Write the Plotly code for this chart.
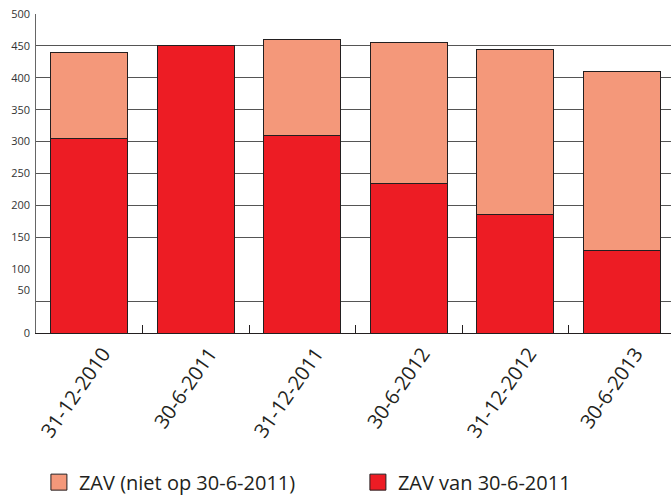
import plotly.graph_objects as go

categories = ["31-12-2010", "30-6-2011", "31-12-2011", "30-6-2012", "31-12-2012", "30-6-2013"]
zav_van = [305, 450, 310, 235, 185, 130]          # ZAV van 30-6-2011 (red, bottom)
zav_niet = [135, 0, 150, 220, 260, 280]           # ZAV (niet op 30-6-2011) (salmon, top)
grid_vals = [50, 150, 200, 250, 300, 350, 400, 450, 500]
ytick_vals = [0, 67, 100, 150, 200, 250, 300, 350, 400, 450, 500]
ytick_text = ["0", "50", "100", "150", "200", "250", "300", "350", "400", "450", "500"]

RED = "#ED1C24"
SALMON = "#F4987A"
DARK = "#231F20"
FONT = "Open Sans"

fig = go.Figure()
fig.add_trace(go.Bar(x=categories, y=zav_van, marker=dict(color=RED, line=dict(color=DARK, width=1)),
                     width=0.72, showlegend=False, name="ZAV van 30-6-2011"))
fig.add_trace(go.Bar(x=categories, y=zav_niet, marker=dict(color=SALMON, line=dict(color=DARK, width=1)),
                     width=0.72, showlegend=False, name="ZAV (niet op 30-6-2011)"))
# legend proxies
fig.add_trace(go.Scatter(x=[categories[0]], y=[None], mode="markers", yaxis="y2", legend="legend",
                         marker=dict(symbol="square", size=16, color=SALMON, line=dict(color=DARK, width=1)),
                         name="ZAV (niet op 30-6-2011)", hoverinfo="skip"))
fig.add_trace(go.Scatter(x=[categories[0]], y=[None], mode="markers", yaxis="y2", legend="legend2",
                         marker=dict(symbol="square", size=16, color=RED, line=dict(color=DARK, width=1)),
                         name="ZAV van 30-6-2011", hoverinfo="skip"))

legend_common = dict(orientation="h", xref="container", yref="container", y=0.026,
                     xanchor="left", yanchor="middle", font=dict(size=20, color=DARK),
                     itemclick=False, traceorder="normal", bgcolor="rgba(0,0,0,0)")

fig.update_layout(
    width=671, height=495,
    margin=dict(l=36, r=0, t=14, b=162),
    barmode="stack",
    paper_bgcolor="white", plot_bgcolor="white",
    font=dict(family=FONT, color=DARK),
    xaxis=dict(range=[-0.5, 5.4624], showline=True, linecolor=DARK, linewidth=1.3,
               ticks="inside", tickson="boundaries", ticklen=8, tickcolor=DARK, tickwidth=1,
               tickangle=-55, tickfont=dict(size=20, color=DARK), showgrid=False,
               ticklabelshift=14, automargin=False),
    yaxis=dict(range=[0, 500], tickvals=grid_vals, showticklabels=False, showgrid=True,
               gridcolor="#555555", gridwidth=1.3, showline=True, linecolor="#666666",
               linewidth=1.3, zeroline=False, ticks="", automargin=False),
    yaxis2=dict(range=[0, 500], overlaying="y", side="left", anchor="x", tickvals=ytick_vals,
                ticktext=ytick_text, showgrid=False, zeroline=False, showline=False,
                tickfont=dict(size=11, color="#333333"), ticks="", ticklabelstandoff=5,
                automargin=False),
    legend=dict(x=0.058, **legend_common),
    legend2=dict(x=0.5334, **legend_common),
)

fig.write_html("out.html", config={"displayModeBar": False},
               post_script="document.body.style.margin='0';")
